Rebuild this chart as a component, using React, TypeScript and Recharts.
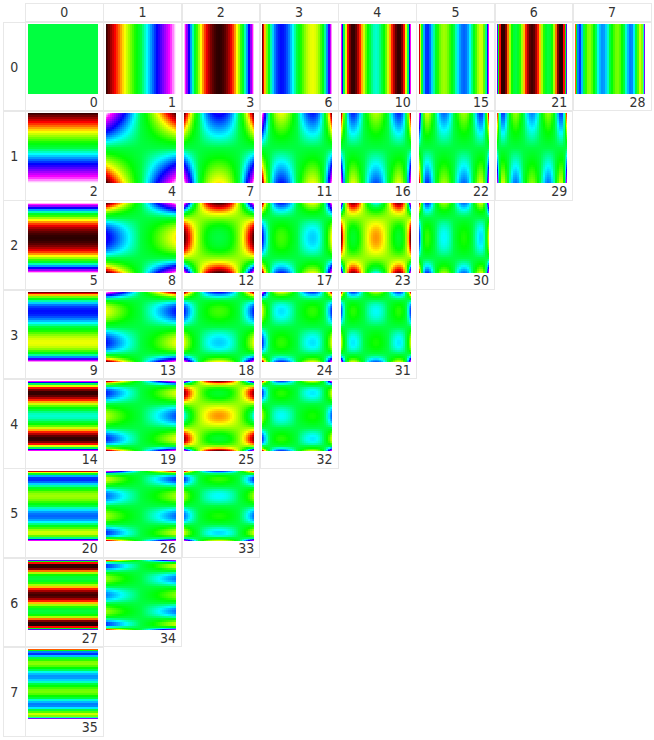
import React from "react";
import { Scatter, ScatterChart, XAxis, YAxis } from "recharts";

// sample positions across one image, -1 is left / top
const SAMPLE_X = [-0.986, -0.957, -0.914, -0.857, -0.8, -0.743, -0.686, -0.629, -0.571, -0.514, -0.457, -0.4, -0.343, -0.286, -0.229, -0.171, -0.114, -0.057, 0, 0.057, 0.114, 0.171, 0.229, 0.286, 0.343, 0.4, 0.457, 0.514, 0.571, 0.629, 0.686, 0.743, 0.8, 0.857, 0.914, 0.957, 0.986];

const WAVE_0 = [1, 1, 1, 1, 1, 1, 1, 1, 1, 1, 1, 1, 1, 1, 1, 1, 1, 1, 1, 1, 1, 1, 1, 1, 1, 1, 1, 1, 1, 1, 1, 1, 1, 1, 1, 1, 1];
const WAVE_1 = [-0.986, -0.957, -0.914, -0.857, -0.8, -0.743, -0.686, -0.629, -0.571, -0.514, -0.457, -0.4, -0.343, -0.286, -0.229, -0.171, -0.114, -0.057, 0, 0.057, 0.114, 0.171, 0.229, 0.286, 0.343, 0.4, 0.457, 0.514, 0.571, 0.629, 0.686, 0.743, 0.8, 0.857, 0.914, 0.957, 0.986];
const WAVE_2 = [0.958, 0.874, 0.754, 0.602, 0.46, 0.328, 0.205, 0.093, -0.01, -0.103, -0.187, -0.26, -0.324, -0.378, -0.422, -0.456, -0.48, -0.495, -0.5, -0.495, -0.48, -0.456, -0.422, -0.378, -0.324, -0.26, -0.187, -0.103, -0.01, 0.093, 0.205, 0.328, 0.46, 0.602, 0.754, 0.874, 0.958];
const WAVE_3 = [-0.917, -0.756, -0.539, -0.289, -0.08, 0.09, 0.223, 0.322, 0.391, 0.431, 0.447, 0.44, 0.414, 0.37, 0.313, 0.245, 0.168, 0.085, 0, -0.085, -0.168, -0.245, -0.313, -0.37, -0.414, -0.44, -0.447, -0.431, -0.391, -0.322, -0.223, -0.09, 0.08, 0.289, 0.539, 0.756, 0.917];
const WAVE_4 = [0.864, 0.611, 0.296, -0.019, -0.233, -0.361, -0.421, -0.424, -0.384, -0.31, -0.218, -0.113, -0.006, 0.098, 0.191, 0.269, 0.327, 0.363, 0.375, 0.363, 0.327, 0.269, 0.191, 0.098, -0.006, -0.113, -0.218, -0.31, -0.384, -0.424, -0.421, -0.361, -0.233, -0.019, 0.296, 0.611, 0.864];
const WAVE_5 = [-0.8, -0.448, -0.056, 0.261, 0.4, 0.411, 0.341, 0.222, 0.082, -0.058, -0.178, -0.271, -0.327, -0.346, -0.329, -0.279, -0.202, -0.105, 0, 0.105, 0.202, 0.279, 0.329, 0.346, 0.327, 0.271, 0.178, 0.058, -0.082, -0.222, -0.341, -0.411, -0.4, -0.261, 0.056, 0.448, 0.8];
const WAVE_6 = [0.726, 0.277, -0.153, -0.394, -0.393, -0.259, -0.078, 0.098, 0.234, 0.313, 0.331, 0.293, 0.211, 0.1, -0.021, -0.137, -0.23, -0.292, -0.313, -0.292, -0.23, -0.137, -0.021, 0.1, 0.211, 0.293, 0.331, 0.313, 0.234, 0.098, -0.078, -0.259, -0.393, -0.394, -0.153, 0.277, 0.726];
const WAVE_7 = [-0.644, -0.108, 0.308, 0.403, 0.241, 0.005, -0.193, -0.305, -0.319, -0.249, -0.128, 0.015, 0.146, 0.244, 0.291, 0.283, 0.222, 0.121, 0, -0.121, -0.222, -0.283, -0.291, -0.244, -0.146, -0.015, 0.128, 0.249, 0.319, 0.305, 0.193, -0.005, -0.241, -0.403, -0.308, 0.108, 0.644];
const WAVES = [WAVE_0, WAVE_1, WAVE_2, WAVE_3, WAVE_4, WAVE_5, WAVE_6, WAVE_7];

// lowest value each wave reaches (they all top out at 1)
const WAVE_LOWS = [1, -1, -0.5, -1, -0.43, -1, -0.33, -1];

const COLUMN_LABELS = ["0", "1", "2", "3", "4", "5", "6", "7"];
const ROW_LABELS = ["0", "1", "2", "3", "4", "5", "6", "7"];

const ROW_0_NUMBERS = [0, 1, 3, 6, 10, 15, 21, 28];
const ROW_1_NUMBERS = [2, 4, 7, 11, 16, 22, 29];
const ROW_2_NUMBERS = [5, 8, 12, 17, 23, 30];
const ROW_3_NUMBERS = [9, 13, 18, 24, 31];
const ROW_4_NUMBERS = [14, 19, 25, 32];
const ROW_5_NUMBERS = [20, 26, 33];
const ROW_6_NUMBERS = [27, 34];
const ROW_7_NUMBERS = [35];
const NUMBERS = [ROW_0_NUMBERS, ROW_1_NUMBERS, ROW_2_NUMBERS, ROW_3_NUMBERS, ROW_4_NUMBERS, ROW_5_NUMBERS, ROW_6_NUMBERS, ROW_7_NUMBERS];

const RAMP_STOPS = [-1, -0.74, -0.47, -0.14, 0, 0.17, 0.46, 0.82, 1];
const RAMP_COLORS = [
  [44, 0, 0],
  [255, 0, 0],
  [255, 255, 0],
  [0, 255, 0],
  [0, 255, 64],
  [0, 255, 255],
  [0, 0, 255],
  [255, 0, 255],
  [255, 255, 255],
];

const colX = (c: number) => 25 + 78.25 * c;
const rowY = (r: number) => 21.5 + 89.35 * r;
const LINE = "#e8e8e8";
const IMG = 70;

function rampColor(v: number) {
  const x = Math.max(-1, Math.min(1, v));
  let i = 0;
  while (i < RAMP_STOPS.length - 2 && x > RAMP_STOPS[i + 1]) i++;
  const f = (x - RAMP_STOPS[i]) / (RAMP_STOPS[i + 1] - RAMP_STOPS[i]);
  const a = RAMP_COLORS[i];
  const b = RAMP_COLORS[i + 1];
  return `rgb(${a.map((n, k) => Math.round(n + (b[k] - n) * f)).join(",")})`;
}

function buildPoints(c: number, r: number) {
  const low = Math.min(WAVE_LOWS[c], WAVE_LOWS[r], WAVE_LOWS[c] * WAVE_LOWS[r]);
  const norm = (p: number) => -1 + (2 * (p - low)) / (1 - low);
  if (c === 0 && r === 0) {
    return [{ x: 0, y: 0, fill: rampColor(0), ix: -1, iy: -1 }];
  }
  const pts: { x: number; y: number; fill: string; ix: number; iy: number }[] = [];
  if (c === 0 || r === 0) {
    // plain stripes, one point per stripe
    SAMPLE_X.forEach((s, i) => {
      pts.push({
        x: r === 0 ? s : 0,
        y: r === 0 ? 0 : s,
        fill: rampColor(norm(r === 0 ? WAVES[c][i] : WAVES[r][i])),
        ix: r === 0 ? i : -1,
        iy: r === 0 ? -1 : i,
      });
    });
    return pts;
  }
  SAMPLE_X.forEach((sy, j) => {
    SAMPLE_X.forEach((sx, i) => {
      pts.push({ x: sx, y: sy, fill: rampColor(norm(WAVES[c][i] * WAVES[r][j])), ix: i, iy: j });
    });
  });
  return pts;
}

// outer two samples on each side are 1px wide, the rest 2px
const span = (i: number) => (i < 2 || i > 34 ? 1 : 2);

function Block(props: any) {
  const { cx, cy, payload } = props;
  const wide = payload.ix === -1;
  const tall = payload.iy === -1;
  const w = wide ? IMG : span(payload.ix);
  const h = tall ? IMG : span(payload.iy);
  return (
    <rect
      x={wide ? 0 : cx - w / 2}
      y={tall ? 0 : cy - h / 2}
      width={wide ? IMG : w + 0.4}
      height={tall ? IMG : h + 0.4}
      fill={payload.fill}
    />
  );
}

function WaveCell({ c, r }: { c: number; r: number }) {
  const data = buildPoints(c, r);
  return (
    <ScatterChart width={IMG} height={IMG} margin={{ top: 0, right: 0, bottom: 0, left: 0 }}>
      <XAxis dataKey="x" type="number" domain={[-1, 1]} hide />
      <YAxis dataKey="y" type="number" domain={[-1, 1]} reversed hide width={0} />
      <Scatter data={data} shape={Block} isAnimationActive={false} />
    </ScatterChart>
  );
}

const textStyle: React.CSSProperties = {
  position: "absolute",
  fontFamily: "'DejaVu Sans Condensed', 'DejaVu Sans', sans-serif",
  fontSize: 14,
  lineHeight: "16px",
  color: "#333",
};

const boxStyle = (x: number, y: number, w: number, h: number): React.CSSProperties => ({
  position: "absolute",
  left: x,
  top: y,
  width: w,
  height: h,
  boxSizing: "border-box",
  border: `1px solid ${LINE}`,
});

export default function App() {
  return (
    <div style={{ position: "absolute", left: 0, top: 0, width: 654, height: 740, background: "#fff", overflow: "hidden" }}>
      {COLUMN_LABELS.map((label, c) => (
        <div key={label} style={boxStyle(colX(c), 2.5, 78.75, 19.5)}>
          <div style={{ ...textStyle, left: 0, right: 0, top: 0, textAlign: "center" }}>{label}</div>
        </div>
      ))}
      {ROW_LABELS.map((label, r) => (
        <div key={label} style={boxStyle(3, rowY(r), 22.5, 89.85)}>
          <div style={{ ...textStyle, left: 0, right: 0, top: 36, textAlign: "center" }}>{label}</div>
        </div>
      ))}
      {NUMBERS.map((row, r) =>
        row.map((n, c) => (
          <div key={n} style={boxStyle(colX(c), rowY(r), 78.75, 89.85)}>
            <div style={{ position: "absolute", left: 1.7, top: 1.5 }}>
              <WaveCell c={c} r={r} />
            </div>
            <div style={{ ...textStyle, right: 5, top: 71 }}>{n}</div>
          </div>
        ))
      )}
    </div>
  );
}
